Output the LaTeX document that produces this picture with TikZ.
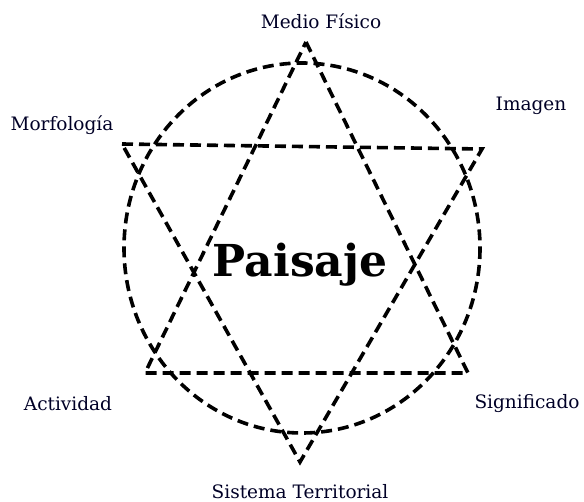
\documentclass[tikz,border=0pt]{standalone}
\usepackage{fontspec}
\setmainfont{DejaVu Serif}
\begin{document}
\begin{tikzpicture}[x=1pt,y=-1pt,
  dl/.style={draw=black,line width=3.6pt,dash pattern=on 11pt off 6pt,line join=miter},
  lbl/.style={font=\fontsize{18.5}{20}\selectfont,text=black!85!blue,inner sep=0pt,anchor=base}]
\useasboundingbox (0,0) rectangle (584,502);
\coordinate (A1) at (306,42);
\coordinate (A2) at (468,373);
\coordinate (A3) at (145,373);
\coordinate (B1) at (122,144);
\coordinate (B2) at (482,149);
\coordinate (B3) at (300,462);
\coordinate (C) at (302,248);
\draw[dl] (C) ellipse [x radius=178, y radius=185];
\draw[dl] (A1) -- (A2) -- (A3) -- cycle;
\draw[dl] (B1) -- (B2) -- (B3) -- cycle;
\node[inner sep=0pt,anchor=base,font=\fontsize{44}{48}\selectfont\bfseries] (P) at (300,277) {Paisaje};
\node[lbl] (mf) at (321,29) {Medio Físico};
\node[lbl] (mo) at (62,131) {Morfología};
\node[lbl] (im) at (531,111) {Imagen};
\node[lbl] (ac) at (68,411) {Actividad};
\node[lbl] (si) at (527,409) {Significado};
\node[lbl] (st) at (300,499) {Sistema Territorial};
\end{tikzpicture}
\end{document}
